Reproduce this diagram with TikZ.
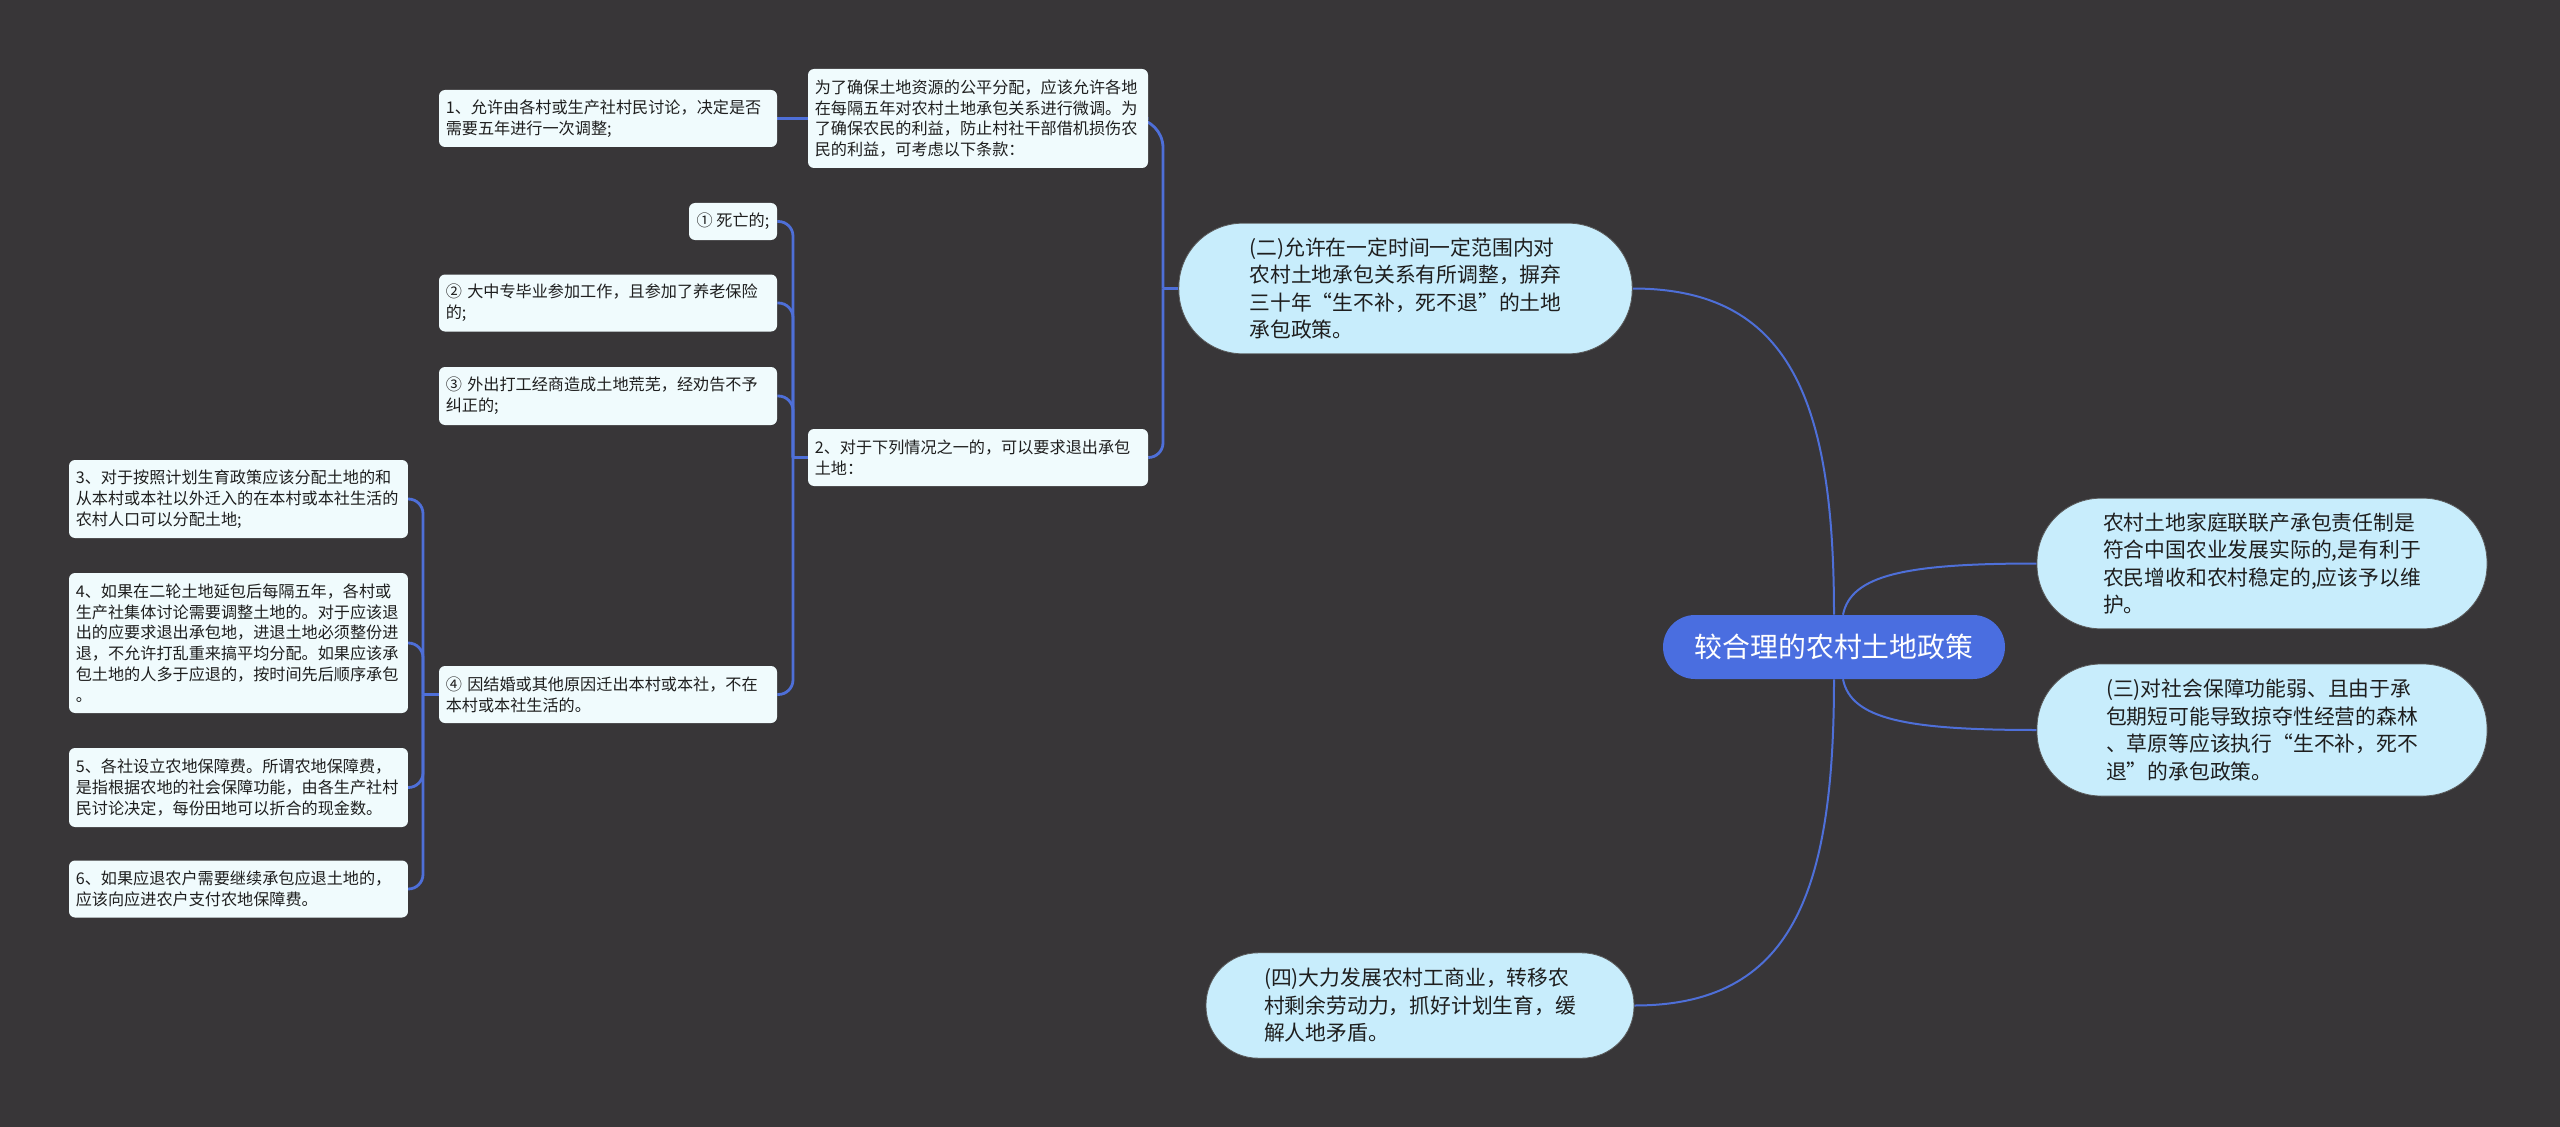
\documentclass[tikz,border=0pt]{standalone}
\usepackage{fontspec}
\setmainfont{Noto Sans CJK SC}
\usetikzlibrary{calc}
\definecolor{bgc}{HTML}{383638}
\definecolor{linec}{HTML}{4E6FD8}
\definecolor{centc}{HTML}{4A6EE0}
\definecolor{mainc}{HTML}{C8EDFC}
\definecolor{leafc}{HTML}{F0FBFD}
\definecolor{txtc}{HTML}{1E1E1E}
\pgfdeclarelayer{bgl}\pgfdeclarelayer{edges}\pgfsetlayers{bgl,edges,main}
\newcommand{\leaffont}{\fontsize{12.1pt}{15.6pt}\selectfont}
\newcommand{\mainfont}{\fontsize{15.6pt}{20.6pt}\selectfont}
\newcommand{\centfont}{\fontsize{20.9pt}{25pt}\selectfont}
\begin{document}
\begin{tikzpicture}[x=0.75pt,y=-0.75pt,
  leaf/.style={fill=leafc, rounded corners=4.5pt, inner xsep=5.1pt, inner ysep=0pt,
    align=left, font=\leaffont, text=txtc, anchor=center},
  mainbox/.style={fill=mainc, draw=black!65, line width=0.6pt, rounded corners=48pt,
    align=left, font=\mainfont, text=txtc, minimum width=340pt, minimum height=98pt, anchor=center},
  centbox/.style={fill=centc, rounded corners=24pt, font=\centfont, text=white,
    minimum width=256.5pt, minimum height=48pt, anchor=center},
  branch/.style={draw=linec, line width=2.1pt, rounded corners=11pt},
  curve/.style={draw=linec, line width=1.5pt}]

\begin{pgfonlayer}{bgl}
\fill[bgc] (0,0) rectangle (2560,1127);
\end{pgfonlayer}
\useasboundingbox (0,0) rectangle (2560,1127);

% central
\node[centbox] (central) at (1834,647) {较合理的农村土地政策};

% main nodes
\node[mainbox] (m2) at (1405.5,288.5) {(二)允许在一定时间一定范围内对\\农村土地承包关系有所调整，摒弃\\三十年“生不补，死不退”的土地\\承包政策。};
\node[mainbox, minimum width=337.5pt] (mR1) at (2262,563.5) {农村土地家庭联联产承包责任制是\\符合中国农业发展实际的,是有利于\\农民增收和农村稳定的,应该予以维\\护。};
\node[mainbox, minimum width=337.5pt, minimum height=99pt] (mR2) at (2262,730) {(三)对社会保障功能弱、且由于承\\包期短可能导致掠夺性经营的森林\\、草原等应该执行“生不补，死不\\退”的承包政策。};
\node[mainbox, minimum width=321pt, minimum height=79pt, rounded corners=39pt] (m4) at (1420,1005.5) {(四)大力发展农村工商业，转移农\\村剩余劳动力，抓好计划生育，缓\\解人地矛盾。};

% level 2 (left of m2)
\node[leaf, text width=244.8pt, minimum height=74.25pt] (top) at (978,118.5) {为了确保土地资源的公平分配，应该允许各地\\在每隔五年对农村土地承包关系进行微调。为\\了确保农民的利益，防止村社干部借机损伤农\\民的利益，可考虑以下条款：};
\node[leaf, text width=244.8pt, minimum height=42.75pt] (two) at (978,457.5) {2、对于下列情况之一的，可以要求退出承包\\土地：};

% level 3
\node[leaf, text width=243.3pt, minimum height=42.75pt] (n1) at (608,118.5) {1、允许由各村或生产社村民讨论，决定是否\\需要五年进行一次调整;};
\node[leaf, minimum width=66pt, inner xsep=4pt, minimum height=27.75pt] (c1) at (733,221.5) {① 死亡的;};
\node[leaf, text width=243.3pt, minimum height=42.75pt] (c2) at (608,303) {② 大中专毕业参加工作，且参加了养老保险\\的;};
\node[leaf, text width=243.3pt, minimum height=43.5pt] (c3) at (608,396) {③ 外出打工经商造成土地荒芜，经劝告不予\\纠正的;};
\node[leaf, text width=243.3pt, minimum height=42.75pt] (c4) at (608,694.5) {④ 因结婚或其他原因迁出本村或本社，不在\\本村或本社生活的。};

% level 4
\node[leaf, text width=244pt, minimum height=58.5pt] (d3) at (238.5,499) {3、对于按照计划生育政策应该分配土地的和\\从本村或本社以外迁入的在本村或本社生活的\\农村人口可以分配土地;};
\node[leaf, text width=244pt, minimum height=105pt] (d4) at (238.5,643) {4、如果在二轮土地延包后每隔五年，各村或\\生产社集体讨论需要调整土地的。对于应该退\\出的应要求退出承包地，进退土地必须整份进\\退，不允许打乱重来搞平均分配。如果应该承\\包土地的人多于应退的，按时间先后顺序承包\\。};
\node[leaf, text width=244pt, minimum height=59.25pt] (d5) at (238.5,787.5) {5、各社设立农地保障费。所谓农地保障费，\\是指根据农地的社会保障功能，由各生产社村\\民讨论决定，每份田地可以折合的现金数。};
\node[leaf, text width=244pt, minimum height=42.75pt] (d6) at (238.5,889) {6、如果应退农户需要继续承包应退土地的，\\应该向应进农户支付农地保障费。};

% junction coordinates
\coordinate (t2) at (1163,288.5);
\coordinate (t3) at (793,457.5);
\coordinate (t4) at (423,694.5);

\begin{pgfonlayer}{edges}
\draw[curve] (central.north) .. controls +(0,-215) and +(157,0) .. (m2.east);
\draw[curve] (central.south) .. controls +(0,215) and +(157,0) .. (m4.east);
\draw[curve] ([xshift=6.75pt]central.north) .. controls +(8,-40) and +(-130,0) .. (mR1.west);
\draw[curve] ([xshift=6.75pt]central.south) .. controls +(8,40) and +(-130,0) .. (mR2.west);

\draw[branch] (m2.west) -- (t2);
\draw[branch, rounded corners=22pt] (top.east) -- (top.east -| t2) -- (t2);
\draw[branch] (two.east) -- (two.east -| t2) -- (t2);

\draw[branch] (top.west) -- (n1.east);

\draw[branch] (two.west) -- (t3);
\draw[branch] (c1.east) -- (c1.east -| t3) -- (t3);
\draw[branch] (c2.east) -- (c2.east -| t3) -- (t3);
\draw[branch] (c3.east) -- (c3.east -| t3) -- (t3);
\draw[branch] (c4.east) -- (c4.east -| t3) -- (t3);

\draw[branch] (c4.west) -- (t4);
\draw[branch] (d3.east) -- (d3.east -| t4) -- (t4);
\draw[branch] (d4.east) -- (d4.east -| t4) -- (t4);
\draw[branch] (d5.east) -- (d5.east -| t4) -- (t4);
\draw[branch] (d6.east) -- (d6.east -| t4) -- (t4);
\end{pgfonlayer}
\end{tikzpicture}
\end{document}
